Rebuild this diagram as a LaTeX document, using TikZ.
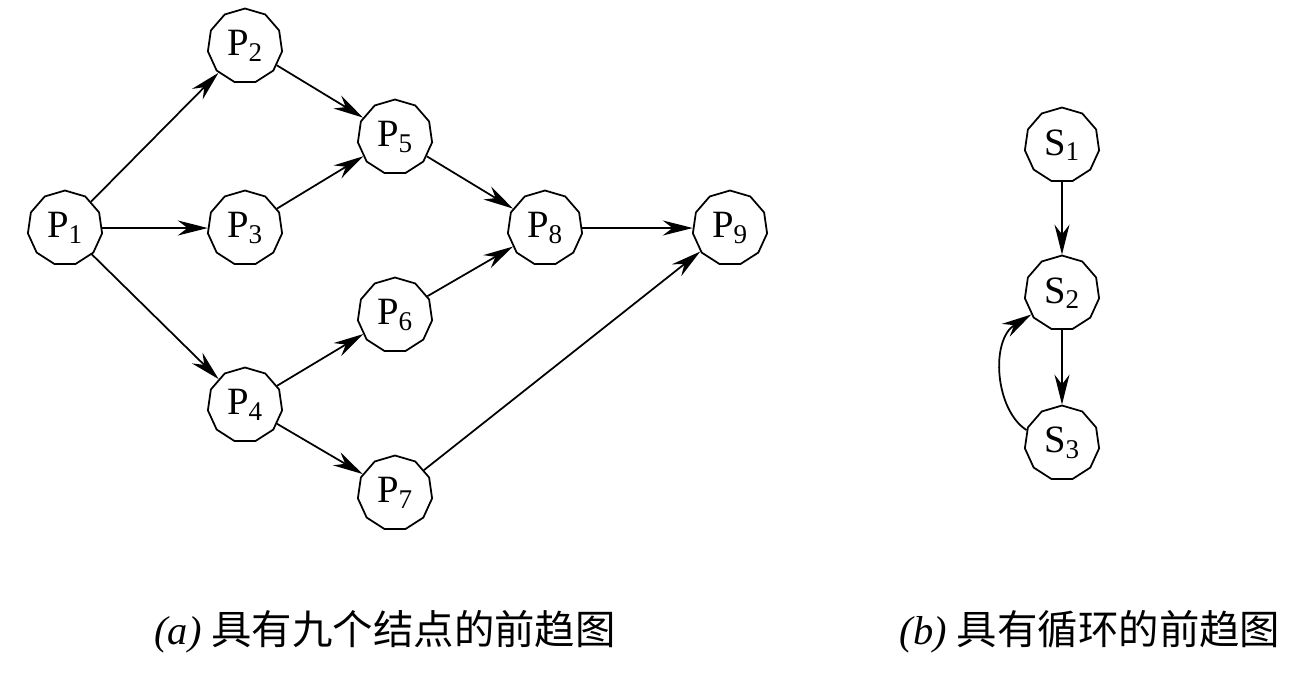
\documentclass[tikz,border=0pt]{standalone}
\usepackage{fontspec}
\setmainfont{Liberation Serif}
\newfontfamily\cjk{Noto Sans CJK SC}
\usetikzlibrary{shapes.geometric,arrows.meta}
\begin{document}
\begin{tikzpicture}[x=0.02cm,y=-0.02cm,
  pn/.style={draw,line width=1pt,regular polygon,regular polygon sides=11,minimum size=1.5cm,inner sep=0pt,font=\fontsize{22}{24}\selectfont},
  ar/.style={line width=1pt,-{Stealth[length=6mm,width=3mm]}}]
\useasboundingbox (0,0) rectangle (1313,674);
\node[pn] (P1) at (65,228) {P\textsubscript{1}};
\node[pn] (P2) at (245,46) {P\textsubscript{2}};
\node[pn] (P3) at (245,228) {P\textsubscript{3}};
\node[pn] (P4) at (245,405) {P\textsubscript{4}};
\node[pn] (P5) at (395,137) {P\textsubscript{5}};
\node[pn] (P6) at (395,315) {P\textsubscript{6}};
\node[pn] (P7) at (395,493) {P\textsubscript{7}};
\node[pn] (P8) at (545,228) {P\textsubscript{8}};
\node[pn] (P9) at (730,228) {P\textsubscript{9}};
\node[pn] (S1) at (1062,145) {S\textsubscript{1}};
\node[pn] (S2) at (1062,293) {S\textsubscript{2}};
\node[pn] (S3) at (1062,443) {S\textsubscript{3}};
\foreach \a/\b in {P1/P2,P1/P3,P1/P4,P2/P5,P3/P5,P4/P6,P4/P7,P5/P8,P6/P8,P8/P9,P7/P9,S1/S2,S2/S3}
  \draw[ar] (\a) -- (\b);
\draw[ar] (S3.160) .. controls (995,410) and (990,340) .. (S2.215);
\node[font=\fontsize{23}{26}\selectfont] (ca) at (385,632) {\textit{(a)} {\cjk 具有九个结点的前趋图}};
\node[font=\fontsize{23}{26}\selectfont] (cb) at (1090,632) {\textit{(b)} {\cjk 具有循环的前趋图}};
\end{tikzpicture}
\end{document}
